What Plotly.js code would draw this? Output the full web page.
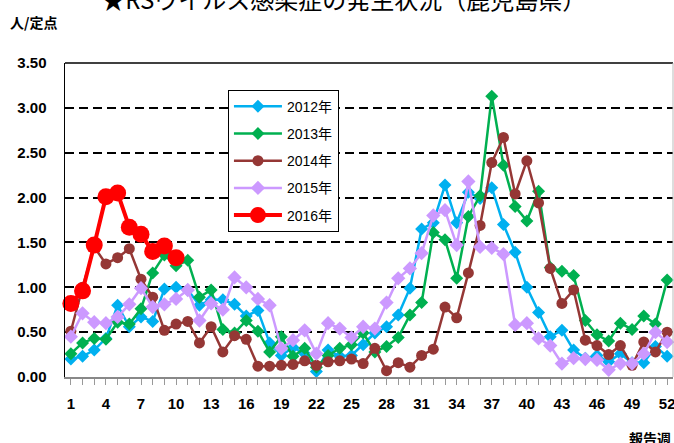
<!DOCTYPE html>
<html>
<head>
<meta charset="utf-8">
<script src="https://cdn.plot.ly/plotly-3.0.1.min.js"></script>
<style>html,body{margin:0;padding:0;background:#fff;}#chart{width:674px;height:443px;}</style>
</head>
<body>
<div id="chart"></div>
<script>
const weeks = [1,2,3,4,5,6,7,8,9,10,11,12,13,14,15,16,17,18,19,20,21,22,23,24,25,26,27,28,29,30,31,32,33,34,35,36,37,38,39,40,41,42,43,44,45,46,47,48,49,50,51,52];
const weekTicks = [1,4,7,10,13,16,19,22,25,28,31,34,37,40,43,46,49,52];
const y2012 = [0.20,0.23,0.30,0.43,0.80,0.56,0.67,0.62,0.98,1.00,0.97,0.80,0.86,0.86,0.81,0.68,0.74,0.38,0.24,0.33,0.26,0.06,0.30,0.23,0.24,0.36,0.49,0.56,0.69,0.99,1.65,1.72,2.14,1.72,2.06,1.99,2.11,1.70,1.39,1.00,0.72,0.45,0.52,0.30,0.21,0.24,0.17,0.26,0.16,0.16,0.34,0.23];
const y2013 = [0.26,0.38,0.43,0.42,0.61,0.59,0.76,1.16,1.36,1.24,1.30,0.89,0.97,0.53,0.49,0.63,0.51,0.28,0.45,0.23,0.32,0.11,0.24,0.32,0.36,0.49,0.28,0.34,0.44,0.69,0.83,1.61,1.53,1.10,1.79,2.02,3.13,2.36,1.90,1.74,2.07,1.22,1.18,1.13,0.63,0.47,0.40,0.60,0.53,0.68,0.59,1.08];
const y2014 = [0.51,1.00,1.45,1.26,1.33,1.43,1.09,0.89,0.52,0.59,0.62,0.38,0.56,0.28,0.46,0.42,0.12,0.12,0.13,0.14,0.18,0.13,0.17,0.18,0.20,0.15,0.32,0.07,0.16,0.11,0.24,0.31,0.78,0.66,1.16,1.69,2.39,2.67,2.04,2.41,1.94,1.21,0.82,0.97,0.41,0.35,0.25,0.35,0.13,0.39,0.28,0.50];
const y2015 = [0.45,0.71,0.61,0.60,0.67,0.81,0.99,0.78,0.81,0.87,0.97,0.63,0.82,0.75,1.11,1.00,0.87,0.80,0.32,0.41,0.52,0.26,0.60,0.54,0.44,0.56,0.54,0.83,1.10,1.21,1.38,1.80,1.86,1.47,2.18,1.45,1.44,1.37,0.58,0.60,0.43,0.35,0.15,0.21,0.20,0.19,0.08,0.15,0.15,0.26,0.50,0.39];
const y2016 = [0.82,0.96,1.47,2.01,2.05,1.67,1.59,1.40,1.46,1.33];
const seriesNames = ['2012年','2013年','2014年','2015年','2016年'];
const yTicks = [0,0.5,1,1.5,2,2.5,3,3.5];
const yTickText = ['0.00','0.50','1.00','1.50','2.00','2.50','3.00','3.50'];

const colors = ['#00B0F0','#00B050','#953735','#CC99FF','#FF0000'];
const symbols = ['diamond','diamond','circle','diamond','circle'];
const msizes = [10,10,11,11,17];
const lwidths = [2.5,2.5,2.5,2.5,4];
const ys = [y2012,y2013,y2014,y2015,y2016];

const traces = ys.map((y,i)=>({
  type:'scatter', mode:'lines+markers',
  x: weeks.slice(0,y.length), y: y,
  name: seriesNames[i], legendgroup: 'g'+i,
  line:{color:colors[i], width:lwidths[i]},
  marker:{color:colors[i], symbol:symbols[i], size:msizes[i]},
  cliponaxis:false
}));

const F = 'Liberation Sans, Arial, Noto Sans CJK JP, sans-serif';
const layout = {
  width:674, height:443,
  margin:{l:65, r:1, t:63, b:66},
  paper_bgcolor:'#fff', plot_bgcolor:'#fff',
  showlegend:true,
  title:{text:'★RSウイルス感染症の発生状況（鹿児島県）', x:0.51, xanchor:'center', xref:'container', y:0.999, yanchor:'middle', yref:'container',
    font:{family:'Noto Sans CJK JP, sans-serif', size:24, color:'#000'}},
  legend:{x:0.268, y:0.915, xanchor:'left', yanchor:'top', bgcolor:'#fff', bordercolor:'#000', borderwidth:1,
    font:{family:F, size:14, color:'#000'}, traceorder:'grouped', tracegroupgap:6, itemwidth:48},
  xaxis:{range:[0.5,52.5], tickmode:'array', tickvals:weekTicks, ticktext:weekTicks.map(String),
    showgrid:false, zeroline:false, showline:true, linecolor:'#888', linewidth:1.5,
    ticks:'outside', ticklen:6, tickcolor:'#999', tickwidth:1,
    minor:{tickmode:'array', tickvals:weeks, ticks:'outside', ticklen:6, tickcolor:'#999', tickwidth:1, showgrid:false},
    ticklabelstandoff:6, ticklabeloverflow:'allow',
    tickfont:{family:F, size:15, color:'#000', weight:'bold'}},
  yaxis:{range:[0,3.5], tickmode:'array', tickvals:yTicks, ticktext:yTickText,
    showgrid:true, gridcolor:'#000', gridwidth:2, griddash:'9px,5px',
    zeroline:false, showline:true, linecolor:'#000', linewidth:1.5, ticks:'', ticklabelstandoff:14,
    tickfont:{family:F, size:15, color:'#000', weight:'bold'}},
  shapes:[{type:'line', xref:'paper', yref:'paper', x0:0, x1:1, y0:1, y1:1, line:{color:'#000', width:1.5}},
          {type:'line', xref:'paper', yref:'paper', x0:1, x1:1, y0:0, y1:1, line:{color:'#bbb', width:1}}],
  annotations:[
    {text:'人/定点', xref:'paper', yref:'paper', x:-0.094, y:1.131, xanchor:'left', yanchor:'middle', showarrow:false,
     font:{family:'Noto Sans CJK JP, sans-serif', size:14, color:'#000', weight:'bold'}},
    {text:'報告週', xref:'paper', yref:'paper', x:1.0, y:-0.194, xanchor:'right', yanchor:'middle', showarrow:false,
     font:{family:'Noto Sans CJK JP, sans-serif', size:14, color:'#000', weight:'bold'}}
  ]
};
Plotly.newPlot('chart', traces, layout, {displayModeBar:false, staticPlot:true});
</script>
</body>
</html>
